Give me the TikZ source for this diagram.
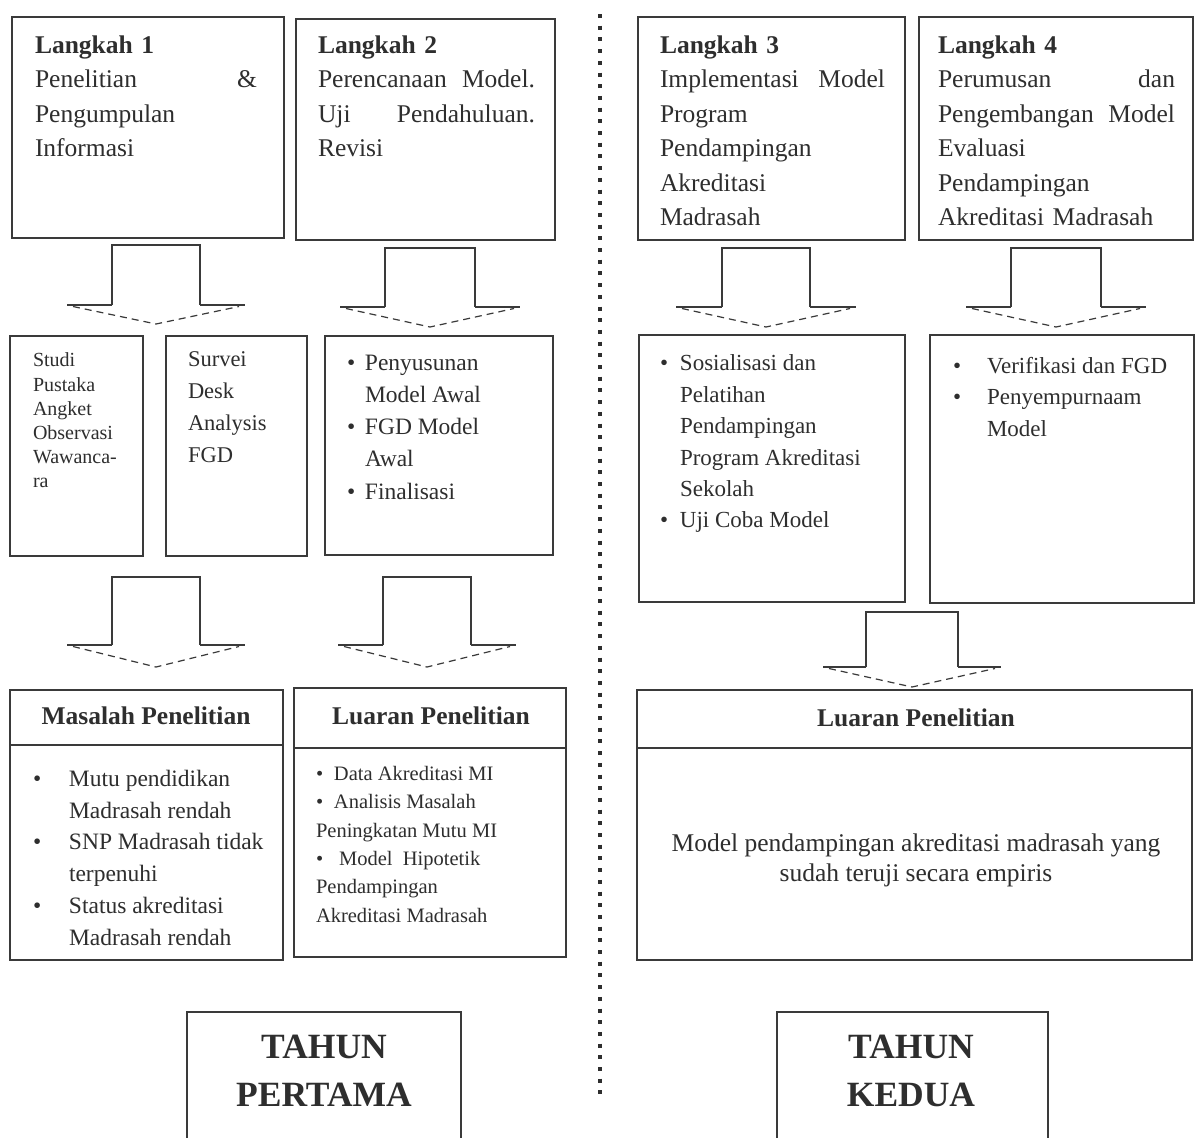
\documentclass[tikz,border=0pt]{standalone}
\usepackage{fontspec}
\setmainfont{Liberation Serif}
\definecolor{ink}{HTML}{2E2E2E}
\definecolor{lineink}{HTML}{3A3A3A}
\newcommand{\mybul}[1]{\makebox[#1][l]{\textbullet}}
\newcommand{\blockarr}[6]{%
  \draw[arr] ({#1-#5},#3) -- ({#1-#5},#2) -- ({#1+#5},#2) -- ({#1+#5},#3);
  \draw[arr] ({#1-#5},#3) -- ({#1-#6},#3);
  \draw[arr] ({#1+#5},#3) -- ({#1+#6},#3);
  \draw[arr,dash pattern=on 7pt off 5pt] ({#1-#6+6},{#3+1.5}) -- (#1,#4) -- ({#1+#6-6},{#3+1.5});
}
\begin{document}
\begin{tikzpicture}[x=1pt,y=-1pt,
  box/.style={draw=lineink, line width=1.3pt, anchor=north west, inner sep=0pt, outer sep=0pt},
  txt/.style={anchor=north west, inner sep=0pt, outer sep=0pt, align=left, text=ink},
  ctxt/.style={anchor=base, inner sep=0pt, outer sep=0pt, text=ink},
  arr/.style={draw=lineink, line width=1.2pt},
  big/.style={font=\fontsize{25.5}{34.5}\selectfont},
  ]
\useasboundingbox (0,0) rectangle (1195,1138);
\fill[white] (0,0) rectangle (1195,1138);

% ---------- top row: Langkah boxes ----------
\node[box, minimum width=272, minimum height=221] (L1) at (12,17) {};
\node[box, minimum width=259, minimum height=221] (L2) at (296,19) {};
\node[box, minimum width=267, minimum height=223] (L3) at (638,17) {};
\node[box, minimum width=274, minimum height=223] (L4) at (919,17) {};

\node[txt, big, text width=222] (L1t) at (35,35.5) {\textbf{Langkah 1}\\Penelitian\hfill\&\\Pengumpulan\\Informasi};
\node[txt, big, text width=217] (L2t) at (318,35.5) {\textbf{Langkah 2}\\Perencanaan\hfill Model.\\Uji\hfill Pendahuluan.\\Revisi};
\node[txt, big, text width=225] (L3t) at (660,35.5) {\textbf{Langkah 3}\\Implementasi\hfill Model\\Program\\Pendampingan\\Akreditasi\\Madrasah};
\node[txt, big, text width=237] (L4t) at (938,35.5) {\textbf{Langkah 4}\\Perumusan\hfill dan\\Pengembangan\hfill Model\\Evaluasi\\Pendampingan\\Akreditasi Madrasah};

% ---------- arrows row 1 ----------
\blockarr{156}{245}{305}{324}{44}{89}
\blockarr{430}{248}{307}{327}{45}{90}
\blockarr{766}{248}{307}{327}{44}{90}
\blockarr{1056}{248}{307}{327}{45}{90}

% ---------- middle row ----------
\node[box, minimum width=133, minimum height=220] (S1) at (10,336) {};
\node[box, minimum width=141, minimum height=220] (S2) at (166,336) {};
\node[box, minimum width=228, minimum height=219] (S3) at (325,336) {};
\node[box, minimum width=266, minimum height=267] (S4) at (639,335) {};
\node[box, minimum width=264, minimum height=268] (S5) at (930,335) {};

\node[txt, font=\fontsize{20}{24.2}\selectfont] (S1t) at (33,353) {Studi\\Pustaka\\Angket\\Observasi\\Wawanca-\\ra};
\node[txt, font=\fontsize{22.5}{31.7}\selectfont] (S2t) at (188,352) {Survei\\Desk\\Analysis\\FGD};
\node[txt, font=\fontsize{23.5}{32.2}\selectfont] (S3t) at (347,355) {\mybul{18pt}Penyusunan\\\hspace*{18pt}Model Awal\\\mybul{18pt}FGD Model\\\hspace*{18pt}Awal\\\mybul{18pt}Finalisasi};
\node[txt, font=\fontsize{23}{31.4}\selectfont] (S4t) at (660,355) {\mybul{20pt}Sosialisasi dan\\\hspace*{20pt}Pelatihan\\\hspace*{20pt}Pendampingan\\\hspace*{20pt}Program Akreditasi\\\hspace*{20pt}Sekolah\\\mybul{20pt}Uji Coba Model};
\node[txt, font=\fontsize{23}{31.5}\selectfont] (S5t) at (953,357) {\mybul{34pt}Verifikasi dan FGD\\\mybul{34pt}Penyempurnaam\\\hspace*{34pt}Model};

% ---------- arrows row 2 ----------
\blockarr{156}{577}{645}{667}{44}{89}
\blockarr{427}{577}{645}{667}{44}{89}
\blockarr{912}{612}{667}{687}{46}{89}

% ---------- bottom row ----------
\node[box, minimum width=273, minimum height=270] (M) at (10,690) {};
\node[box, minimum width=272, minimum height=269] (LL) at (294,688) {};
\node[box, minimum width=555, minimum height=270] (LR) at (637,690) {};
\draw[arr, line width=1.3pt] (M.west |- 0,745) -- (M.east |- 0,745);
\draw[arr, line width=1.3pt] (LL.west |- 0,748) -- (LL.east |- 0,748);
\draw[arr, line width=1.3pt] (LR.west |- 0,748) -- (LR.east |- 0,748);

\node[ctxt, font=\fontsize{25.5}{30}\selectfont\bfseries] (Mh) at (146,724) {Masalah Penelitian};
\node[ctxt, font=\fontsize{25.5}{30}\selectfont\bfseries] (LLh) at (431,724) {Luaran Penelitian};
\node[ctxt, font=\fontsize{25.5}{30}\selectfont\bfseries] (LRh) at (916,726) {Luaran Penelitian};

\node[txt, font=\fontsize{23.5}{31.8}\selectfont] (Mt) at (33,770) {\mybul{36pt}Mutu pendidikan\\\hspace*{36pt}Madrasah rendah\\\mybul{36pt}SNP Madrasah tidak\\\hspace*{36pt}terpenuhi\\\mybul{36pt}Status akreditasi\\\hspace*{36pt}Madrasah rendah};
\node[txt, font=\fontsize{20.5}{28.4}\selectfont] (LLt) at (316,766) {\mybul{18pt}Data Akreditasi MI\\\mybul{18pt}Analisis Masalah\\Peningkatan Mutu MI\\\mybul{18pt}\ Model\ \ Hipotetik\\Pendampingan\\Akreditasi Madrasah};
\node[anchor=north, inner sep=0pt, align=center, text=ink, font=\fontsize{25.5}{30}\selectfont] (LRt) at (916,833.5) {Model pendampingan akreditasi madrasah yang\\sudah teruji secara empiris};

% ---------- TAHUN boxes ----------
\node[box, minimum width=274, minimum height=200] (TP) at (187,1012) {};
\node[box, minimum width=271, minimum height=200] (TK) at (777,1012) {};
\node[ctxt, font=\fontsize{35.5}{48}\selectfont\bfseries] (TPa) at (324,1058.5) {TAHUN};
\node[ctxt, font=\fontsize{35.5}{48}\selectfont\bfseries] (TPb) at (324,1106.5) {PERTAMA};
\node[ctxt, font=\fontsize{35.5}{48}\selectfont\bfseries] (TKa) at (911,1058.5) {TAHUN};
\node[ctxt, font=\fontsize{35.5}{48}\selectfont\bfseries] (TKb) at (911,1106.5) {KEDUA};

% ---------- dotted divider ----------
\coordinate (dtop) at (600,14);
\coordinate (dbot) at (600,1100);
\draw[draw=ink, line width=4pt, dash pattern=on 4pt off 7.7pt] (dtop) -- (dbot);
\end{tikzpicture}
\end{document}
